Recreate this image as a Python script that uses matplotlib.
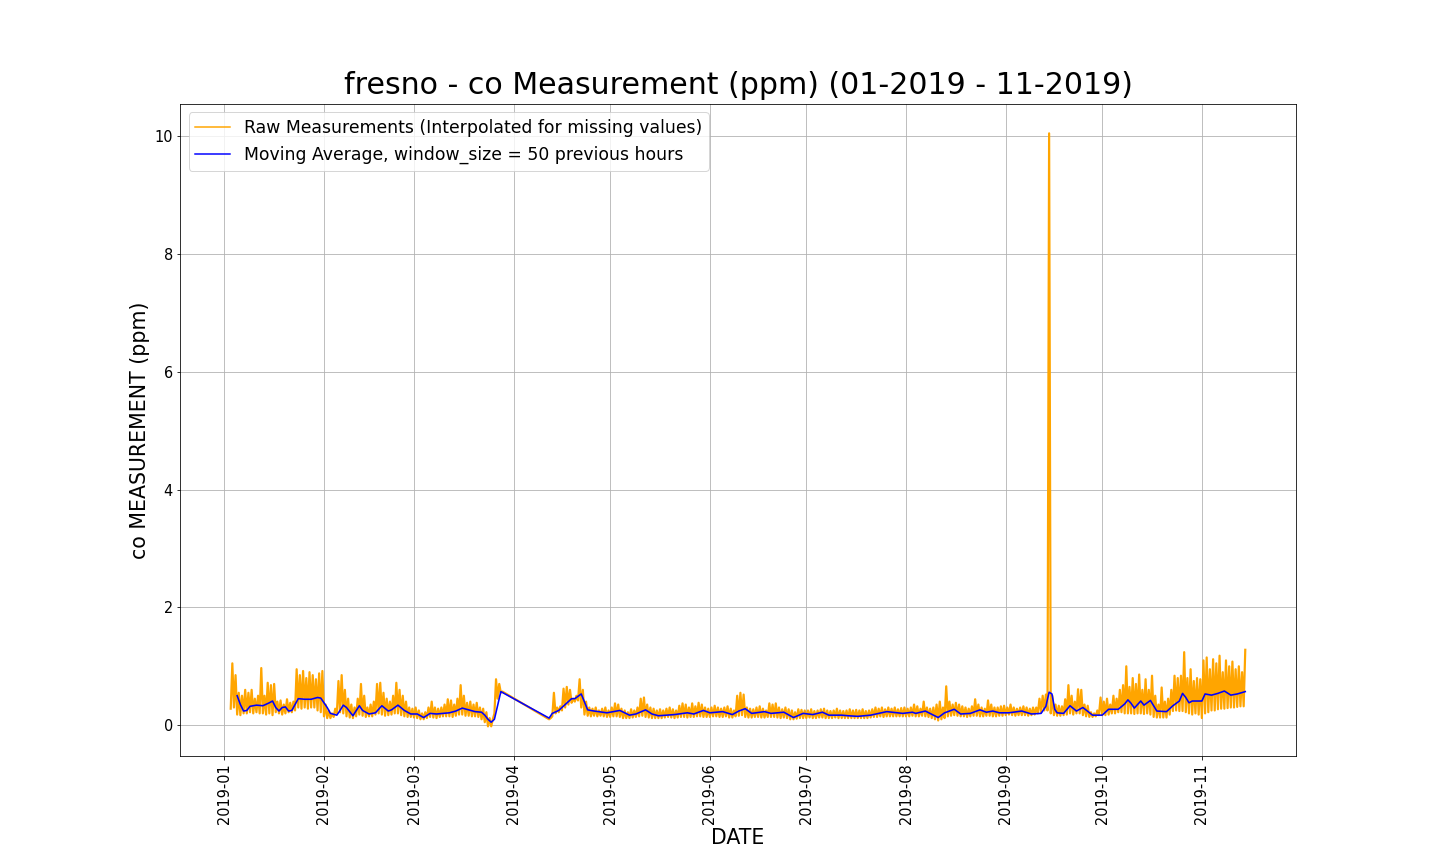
import matplotlib
matplotlib.use('Agg')
import matplotlib.pyplot as plt
import matplotlib.dates as mdates
import numpy as np
import pandas as pd

# Daily peak / base readings of the raw co series, starting 2019-01-03.
# None = missing day (the plotted line just joins across the gap).
peak_jan = [1.05, 0.85, 0.55, 0.5, 0.6, 0.55, 0.6, 0.45, 0.5, 0.97, 0.5, 0.72, 0.68, 0.7, 0.4,
            0.42, 0.35, 0.44, 0.38, 0.4, 0.95, 0.85, 0.92, 0.8, 0.9, 0.85, 0.78, 0.88, 0.92]
base_jan = [0.28, 0.3, 0.18, 0.17, 0.2, 0.2, 0.22, 0.2, 0.22, 0.2, 0.2, 0.18, 0.2, 0.17, 0.22,
            0.2, 0.18, 0.2, 0.22, 0.22, 0.25, 0.3, 0.28, 0.3, 0.28, 0.3, 0.3, 0.25, 0.22]
peak_feb = [0.35, 0.25, 0.2, 0.28, 0.75, 0.85, 0.6, 0.45, 0.35, 0.3, 0.45, 0.7, 0.5, 0.3,
            0.35, 0.4, 0.7, 0.72, 0.55, 0.45, 0.4, 0.5, 0.72, 0.6, 0.5, 0.4, 0.3, 0.28]
base_feb = [0.15, 0.12, 0.12, 0.14, 0.2, 0.22, 0.2, 0.15, 0.13, 0.12, 0.15, 0.18, 0.16, 0.14,
            0.15, 0.15, 0.18, 0.2, 0.18, 0.16, 0.17, 0.18, 0.2, 0.2, 0.17, 0.15, 0.14, 0.14]
peak_mar = [0.3, 0.25, 0.2, 0.22, 0.3, 0.4, 0.3, 0.28, 0.3, 0.35, 0.44, 0.42, 0.35, 0.45, 0.68,
            0.5, 0.38, 0.4, 0.35, 0.38, 0.3, 0.28, 0.22, 0.12, 0.1, 0.78, 0.7, 0.57, None, None, None]
base_mar = [0.13, 0.12, 0.1, 0.1, 0.12, 0.14, 0.13, 0.12, 0.14, 0.15, 0.15, 0.15, 0.14, 0.16, 0.18,
            0.18, 0.16, 0.16, 0.15, 0.15, 0.14, 0.1, 0.05, -0.02, -0.02, 0.2, 0.45, 0.55, None, None, None]
peak_apr = [None] * 11 + [0.12, 0.55, 0.3, 0.32, 0.62, 0.65, 0.6, 0.45, 0.5, 0.78, 0.6, 0.4, 0.3,
                         0.28, 0.3, 0.25, 0.28, 0.3, 0.25]
base_apr = [None] * 11 + [0.1, 0.15, 0.2, 0.22, 0.25, 0.3, 0.35, 0.38, 0.4, 0.42, 0.3, 0.18, 0.16,
                         0.15, 0.16, 0.15, 0.16, 0.15, 0.14]
peak_may = [0.3, 0.37, 0.35, 0.28, 0.25, 0.22, 0.27, 0.25, 0.3, 0.45, 0.47, 0.35, 0.3, 0.28, 0.25, 0.27,
            0.25, 0.28, 0.3, 0.27, 0.25, 0.33, 0.37, 0.35, 0.3, 0.37, 0.32, 0.38, 0.35, 0.3, 0.28]
base_may = [0.14, 0.15, 0.15, 0.14, 0.12, 0.12, 0.12, 0.13, 0.14, 0.15, 0.16, 0.14, 0.13, 0.12, 0.12, 0.12,
            0.12, 0.13, 0.14, 0.13, 0.12, 0.13, 0.14, 0.14, 0.13, 0.14, 0.14, 0.15, 0.15, 0.14, 0.14]
peak_jun = [0.3, 0.33, 0.3, 0.28, 0.3, 0.32, 0.28, 0.25, 0.5, 0.55, 0.52, 0.3, 0.28, 0.27, 0.3,
            0.32, 0.28, 0.25, 0.37, 0.35, 0.37, 0.3, 0.27, 0.3, 0.27, 0.25, 0.22, 0.27, 0.26, 0.25]
base_jun = [0.14, 0.15, 0.15, 0.14, 0.14, 0.15, 0.13, 0.13, 0.15, 0.16, 0.17, 0.14, 0.13, 0.13, 0.14,
            0.14, 0.13, 0.13, 0.14, 0.14, 0.14, 0.13, 0.12, 0.13, 0.12, 0.1, 0.1, 0.11, 0.12, 0.12]
peak_jul = [0.25, 0.27, 0.24, 0.25, 0.27, 0.28, 0.25, 0.24, 0.25, 0.28, 0.25, 0.24, 0.25, 0.27, 0.25, 0.26,
            0.25, 0.27, 0.24, 0.25, 0.27, 0.3, 0.28, 0.3, 0.27, 0.3, 0.28, 0.3, 0.27, 0.29, 0.3]
base_jul = [0.12, 0.13, 0.12, 0.12, 0.13, 0.13, 0.12, 0.12, 0.12, 0.13, 0.12, 0.12, 0.12, 0.12, 0.12, 0.12,
            0.12, 0.12, 0.12, 0.12, 0.13, 0.14, 0.14, 0.15, 0.14, 0.15, 0.15, 0.15, 0.15, 0.15, 0.15]
peak_aug = [0.28, 0.3, 0.35, 0.32, 0.28, 0.4, 0.3, 0.28, 0.3, 0.35, 0.4, 0.3, 0.66, 0.4, 0.35, 0.38,
            0.35, 0.32, 0.3, 0.28, 0.32, 0.44, 0.35, 0.3, 0.28, 0.42, 0.35, 0.3, 0.3, 0.32, 0.33]
base_aug = [0.15, 0.15, 0.16, 0.15, 0.15, 0.16, 0.15, 0.14, 0.12, 0.1, 0.08, 0.1, 0.12, 0.15, 0.16, 0.17,
            0.16, 0.15, 0.15, 0.14, 0.15, 0.16, 0.16, 0.15, 0.15, 0.16, 0.16, 0.15, 0.15, 0.16, 0.16]
peak_sep = [0.3, 0.35, 0.3, 0.28, 0.3, 0.32, 0.3, 0.28, 0.3, 0.3, 0.45, 0.5, 0.52, 10.05, 0.5,
            0.35, 0.33, 0.32, 0.44, 0.68, 0.5, 0.4, 0.61, 0.6, 0.35, 0.33, 0.22, 0.2, 0.25, 0.47]
base_sep = [0.17, 0.18, 0.17, 0.16, 0.17, 0.17, 0.17, 0.16, 0.17, 0.18, 0.2, 0.22, 0.25, 0.25, 0.2,
            0.17, 0.16, 0.16, 0.17, 0.18, 0.2, 0.18, 0.2, 0.2, 0.17, 0.15, 0.14, 0.14, 0.15, 0.17]
peak_oct = [0.4, 0.45, 0.35, 0.5, 0.45, 0.6, 0.68, 1.0, 0.65, 0.8, 0.7, 0.86, 0.6, 0.78, 0.6, 0.84,
            0.5, 0.35, 0.64, 0.4, 0.45, 0.6, 0.84, 0.8, 0.84, 1.24, 0.8, 0.95, 0.75, 0.8, 0.78]
base_oct = [0.17, 0.17, 0.18, 0.2, 0.2, 0.22, 0.22, 0.2, 0.2, 0.2, 0.19, 0.2, 0.2, 0.19, 0.2, 0.18,
            0.14, 0.13, 0.13, 0.13, 0.13, 0.18, 0.24, 0.25, 0.24, 0.24, 0.22, 0.2, 0.18, 0.2, 0.18]
peak_nov = [1.1, 1.15, 0.95, 1.12, 1.05, 1.18, 0.9, 1.1, 1.0, 1.08, 0.95, 1.0, 0.9, 1.28]
base_nov = [0.12, 0.2, 0.22, 0.25, 0.25, 0.27, 0.28, 0.28, 0.29, 0.3, 0.3, 0.31, 0.32, 0.32]

# moving average (50 previous hours)
ma_dates = ['2019-01-05', '2019-01-06', '2019-01-07', '2019-01-08', '2019-01-09', '2019-01-11',
            '2019-01-13', '2019-01-15', '2019-01-16', '2019-01-17', '2019-01-18', '2019-01-19',
            '2019-01-20', '2019-01-21', '2019-01-22', '2019-01-23', '2019-01-24', '2019-01-26',
            '2019-01-28', '2019-01-30', '2019-01-31', '2019-02-02', '2019-02-03', '2019-02-05',
            '2019-02-06', '2019-02-07', '2019-02-08', '2019-02-10', '2019-02-12', '2019-02-13',
            '2019-02-15', '2019-02-17', '2019-02-19', '2019-02-21', '2019-02-22', '2019-02-24',
            '2019-02-26', '2019-02-28', '2019-03-02', '2019-03-04', '2019-03-06', '2019-03-08',
            '2019-03-10', '2019-03-12', '2019-03-14', '2019-03-16', '2019-03-18', '2019-03-20',
            '2019-03-22', '2019-03-23', '2019-03-24', '2019-03-25', '2019-03-26', '2019-03-28',
            '2019-04-12', '2019-04-13', '2019-04-15', '2019-04-16', '2019-04-19', '2019-04-20',
            '2019-04-22', '2019-04-24', '2019-04-26', '2019-04-30', '2019-05-04', '2019-05-07',
            '2019-05-09', '2019-05-12', '2019-05-14', '2019-05-16', '2019-05-21', '2019-05-25',
            '2019-05-27', '2019-05-30', '2019-06-01', '2019-06-05', '2019-06-08', '2019-06-10',
            '2019-06-12', '2019-06-14', '2019-06-18', '2019-06-20', '2019-06-24', '2019-06-27',
            '2019-06-30', '2019-07-03', '2019-07-06', '2019-07-08', '2019-07-12', '2019-07-14',
            '2019-07-17', '2019-07-21', '2019-07-26', '2019-07-31', '2019-08-03', '2019-08-04',
            '2019-08-07', '2019-08-11', '2019-08-13', '2019-08-16', '2019-08-18', '2019-08-21',
            '2019-08-24', '2019-08-26', '2019-08-28', '2019-08-30', '2019-09-02', '2019-09-06',
            '2019-09-09', '2019-09-12', '2019-09-13 12:00', '2019-09-14 12:00', '2019-09-15 09:00',
            '2019-09-16 06:00', '2019-09-17', '2019-09-19', '2019-09-21', '2019-09-23', '2019-09-25',
            '2019-09-28', '2019-10-01', '2019-10-03', '2019-10-06', '2019-10-08', '2019-10-09',
            '2019-10-10', '2019-10-11', '2019-10-13', '2019-10-14', '2019-10-16', '2019-10-18',
            '2019-10-21', '2019-10-23', '2019-10-25', '2019-10-26', '2019-10-27', '2019-10-28',
            '2019-10-29', '2019-11-01', '2019-11-02', '2019-11-04', '2019-11-06', '2019-11-08',
            '2019-11-10', '2019-11-12', '2019-11-14 12:00']
ma_values = [0.5, 0.35, 0.24, 0.25, 0.32, 0.34, 0.33, 0.38, 0.41, 0.3, 0.24, 0.3,
             0.31, 0.24, 0.25, 0.35, 0.45, 0.44, 0.44, 0.47, 0.46, 0.3, 0.2, 0.17,
             0.25, 0.34, 0.3, 0.16, 0.33, 0.25, 0.19, 0.21, 0.33, 0.24, 0.26, 0.34,
             0.25, 0.19, 0.19, 0.13, 0.2, 0.19, 0.2, 0.21, 0.24, 0.29, 0.26, 0.23,
             0.22, 0.17, 0.1, 0.05, 0.1, 0.57, 0.12, 0.2, 0.25, 0.3, 0.45, 0.45,
             0.53, 0.26, 0.24, 0.21, 0.25, 0.17, 0.19, 0.26, 0.19, 0.16, 0.18, 0.21,
             0.19, 0.25, 0.21, 0.23, 0.18, 0.24, 0.28, 0.2, 0.23, 0.2, 0.22, 0.13,
             0.2, 0.18, 0.22, 0.17, 0.17, 0.16, 0.15, 0.17, 0.23, 0.2, 0.22, 0.2,
             0.24, 0.13, 0.21, 0.27, 0.19, 0.2, 0.26, 0.22, 0.24, 0.21, 0.21, 0.24,
             0.19, 0.2, 0.32, 0.56, 0.53, 0.27, 0.21, 0.2, 0.33, 0.24, 0.3, 0.17,
             0.17, 0.27, 0.27, 0.36, 0.43, 0.37, 0.29, 0.41, 0.34, 0.42, 0.24, 0.23,
             0.33, 0.41, 0.54, 0.47, 0.38, 0.41, 0.41, 0.53, 0.51, 0.54, 0.58, 0.51,
             0.53, 0.57]

city = 'fresno'
pollutant = 'co'

peaks = (peak_jan + peak_feb + peak_mar + peak_apr + peak_may + peak_jun +
         peak_jul + peak_aug + peak_sep + peak_oct + peak_nov)
bases = (base_jan + base_feb + base_mar + base_apr + base_may + base_jun +
         base_jul + base_aug + base_sep + base_oct + base_nov)

days = pd.date_range('2019-01-03', periods=len(peaks), freq='D')
# base reading at midnight, peak reading at noon
raw_times = []
raw_vals = []
for d, lo, hi in zip(days, bases, peaks):
    if lo is None:
        continue
    raw_times += [d, d + pd.Timedelta(hours=12)]
    raw_vals += [lo, hi]

ma_times = pd.to_datetime(ma_dates, format='mixed')

fig = plt.figure(figsize=(20, 12), dpi=72)
ax = fig.add_axes([0.125, 0.125, 0.775, 0.755])

ax.plot(raw_times, raw_vals, color='orange', linewidth=2.2,
        label='Raw Measurements (Interpolated for missing values)')
ax.plot(ma_times, ma_values, color='blue', linewidth=1.6,
        label='Moving Average, window_size = 50 previous hours')

ax.xaxis.set_major_locator(mdates.MonthLocator())
ax.xaxis.set_major_formatter(mdates.DateFormatter('%Y-%m'))
plt.setp(ax.get_xticklabels(), rotation=90)
ax.tick_params(labelsize=14.5)
ax.grid(True)

ax.set_title(f'{city} - {pollutant} Measurement (ppm) (01-2019 - 11-2019)', fontsize=30, pad=10)
ax.set_xlabel('DATE', fontsize=20.5)
ax.set_ylabel(f'{pollutant} MEASUREMENT (ppm)', fontsize=20.5)
leg = ax.legend(loc='upper left', fontsize=17.2)
for line in leg.get_lines():
    line.set_linewidth(1.5)

fig.savefig('out.png', dpi=72)
